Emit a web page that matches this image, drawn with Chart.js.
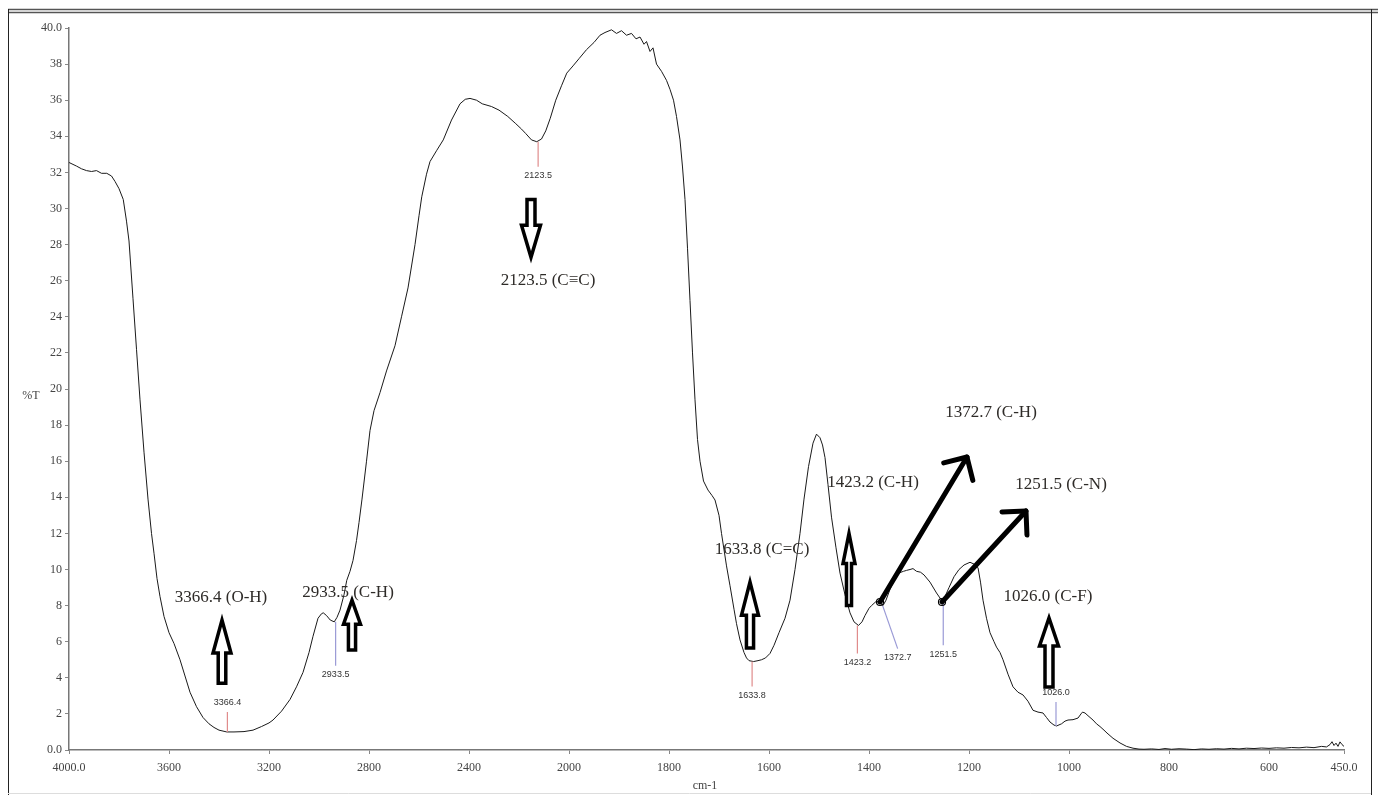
<!DOCTYPE html>
<html><head><meta charset="utf-8">
<script src="https://cdn.jsdelivr.net/npm/chart.js@4.4.1/dist/chart.umd.min.js"></script>
<style>html,body{margin:0;padding:0;background:#fff;}canvas{display:block;}</style>
</head><body>
<canvas id="c" width="1378" height="795"></canvas>
<script>
// ---------------- DATA ----------------
const wavenumbers = [4000,3970,3950,3930,3910,3890,3870,3849,3830,3816,3800,3783,3770,3760,3744,3730,3716,3700,3684,3670,3660,3648,3636,3620,3600,3580,3556,3536,3516,3490,3464,3440,3420,3400,3369,3340,3300,3264,3230,3200,3184,3150,3116,3090,3064,3040,3024,3004,2990,2983,2970,2955,2939,2928,2916,2900,2889,2876,2864,2850,2840,2828,2810,2796,2780,2756,2730,2696,2670,2644,2616,2600,2589,2570,2556,2530,2503,2470,2436,2415,2396,2370,2347,2310,2280,2245,2213,2190,2173,2150,2129,2110,2093,2075,2053,2030,2009,1992,1980,1965,1950,1938,1928,1915,1905,1895,1885,1875,1866,1858,1850,1845,1838,1832,1825,1815,1805,1798,1791,1785,1778,1773,1768,1763,1758,1753,1748,1743,1738,1731,1722,1714,1708,1700,1695,1685,1678,1670,1665,1658,1650,1645,1640,1631,1622,1615,1607,1598,1590,1580,1568,1558,1548,1538,1530,1521,1512,1505,1498,1493,1488,1482,1475,1466,1458,1448,1438,1430,1421,1414,1408,1400,1395,1385,1378,1372,1366,1358,1350,1341,1331,1325,1318,1312,1305,1297,1290,1278,1265,1255,1248,1240,1230,1220,1210,1198,1190,1182,1177,1172,1165,1158,1150,1145,1138,1132,1122,1112,1102,1092,1082,1072,1062,1052,1045,1038,1030,1025,1015,1008,1002,992,982,976,973,968,962,952,945,938,930,924,912,898,885,872,860,850,835,820,808,795,780,765,750,735,720,705,690,675,660,645,630,615,600,585,570,555,540,525,510,495,485,478,474,470,466,462,458,454,450];
const transmittance = [32.55,32.35,32.2,32.1,32.05,32.1,31.95,31.95,31.8,31.5,31.1,30.5,29.3,28.2,25.0,22.2,19.4,16.5,13.9,12.0,10.9,9.5,8.5,7.4,6.5,5.9,5.0,4.1,3.2,2.4,1.8,1.45,1.25,1.1,1.0,1.0,1.02,1.1,1.3,1.5,1.66,2.15,2.8,3.5,4.3,5.4,6.3,7.3,7.55,7.6,7.45,7.2,7.1,7.35,7.75,8.6,9.4,9.9,10.5,11.6,12.6,13.9,16.0,17.7,18.8,19.8,21.0,22.4,24.0,25.6,28.0,29.6,30.65,31.9,32.6,33.2,33.8,34.9,35.8,36.05,36.1,36.0,35.8,35.65,35.45,35.1,34.7,34.4,34.15,33.8,33.7,33.85,34.3,35.0,36.0,36.8,37.5,37.9,38.3,38.8,39.2,39.6,39.75,39.9,39.7,39.85,39.6,39.7,39.4,39.5,39.1,39.25,38.7,38.9,38.0,37.6,37.1,36.6,36.0,35.1,33.8,32.3,30.5,27.8,24.9,22.0,19.4,17.2,16.0,14.9,14.4,14.1,13.85,13.0,12.0,10.2,9.1,7.8,7.0,6.1,5.4,5.1,4.95,4.9,4.95,5.0,5.1,5.35,5.8,6.5,7.3,8.3,10.0,12.0,13.9,15.7,17.0,17.5,17.3,16.9,16.2,14.7,12.9,11.2,9.8,8.6,7.6,7.1,6.9,7.1,7.45,7.85,8.0,8.25,8.15,8.0,8.3,8.9,9.4,9.8,9.9,9.95,10.0,10.05,9.9,9.85,9.7,9.3,8.7,8.3,8.5,9.0,9.6,10.0,10.25,10.4,10.3,10.1,9.3,8.3,7.3,6.5,6.0,5.7,5.4,5.0,4.2,3.5,3.2,3.05,2.7,2.2,2.1,2.05,1.8,1.55,1.38,1.33,1.45,1.6,1.66,1.68,1.77,2.0,2.1,2.05,1.9,1.66,1.45,1.3,1.1,0.94,0.65,0.39,0.2,0.1,0.05,0.04,0.06,0.03,0.08,0.04,0.07,0.05,0.02,0.06,0.04,0.07,0.05,0.09,0.06,0.1,0.08,0.11,0.09,0.12,0.1,0.14,0.12,0.16,0.13,0.2,0.17,0.3,0.46,0.25,0.38,0.2,0.45,0.3,0.2];
const xTickValues = [4000,3600,3200,2800,2400,2000,1800,1600,1400,1200,1000,800,600,450];
const yTickValues = [0,2,4,6,8,10,12,14,16,18,20,22,24,26,28,30,32,34,36,38,40];
const peakWavenumbers = [3366.4,2933.5,2123.5,1633.8,1423.2,1372.7,1251.5,1026.0];
const peakTransmittance = [1.0,7.1,33.7,4.9,6.9,8.0,8.3,1.33];
const peakLabels = ['3366.4','2933.5','2123.5','1633.8','1423.2','1372.7','1251.5','1026.0'];
const bandLabels = ['3366.4 (O-H)','2933.5 (C-H)','2123.5 (C\u2261C)','1633.8 (C=C)','1423.2 (C-H)','1372.7 (C-H)','1251.5 (C-N)','1026.0 (C-F)'];

// ---------------- LAYOUT / STYLE ----------------
const markerStyle = [
  {color:'#e08c8c', dir:-1, len:20, dx:0},
  {color:'#9a9ad6', dir:1, len:44, dx:0},
  {color:'#e08c8c', dir:1, len:25, dx:0},
  {color:'#e08c8c', dir:1, len:25, dx:0},
  {color:'#e08c8c', dir:1, len:28, dx:0},
  {color:'#9a9ad6', dir:1, len:43, dx:15},
  {color:'#9a9ad6', dir:1, len:45, dx:0},
  {color:'#9a9ad6', dir:-1, len:24, dx:0}
];
// label anchor positions (wavenumber, %T) for each band label
const bandLabelPos = [[3392,8.42],[2884,8.75],[2084,26.0],[1614,11.08],[1392,14.8],[1156,18.67],[1016,14.68],[1042,8.48]];
// hollow block arrows: [centre wavenumber, tail %T, tip %T, width px, head px]
const blockArrows = [[3388,3.7,7.2,18,33],[2868,5.54,8.3,17,24],[2152,30.5,27.3,19,32],[1638,5.65,9.3,17,33],[1440,8.0,12.0,12,30],[1040,3.49,7.31,19,28]];
// line arrows: [from wn, from %T, to wn, to %T]
const lineArrows = [[1378,8.2,1204,16.23],[1254,8.2,1086,13.24]];

// ---------------- custom FTIR axis (scale change at 2000 cm-1) ----------------
class FtirScale extends Chart.LinearScale {
  buildTicks() { return xTickValues.map(v => ({value: v})); }
  _units(v) { return v >= 2000 ? (4000 - v) / 400 : 5 + (2000 - v) / 200; }
  getPixelForValue(v) { return this.left + this._units(v) / this._units(450) * this.width; }
  getValueForPixel(p) {
    const u = (p - this.left) / this.width * this._units(450);
    return u <= 5 ? 4000 - u * 400 : 2000 - (u - 5) * 200;
  }
}
FtirScale.id = 'ftir';
FtirScale.defaults = {};
Chart.register(FtirScale);

const framePlugin = {
  id: 'frame',
  beforeDraw(chart) {
    const c = chart.ctx;
    c.save();
    c.fillStyle = '#fff'; c.fillRect(0, 0, chart.width, chart.height);
    c.strokeStyle = '#555'; c.lineWidth = 1.5;
    c.beginPath(); c.moveTo(8, 9.5); c.lineTo(1378, 9.5); c.stroke();
    c.beginPath(); c.moveTo(8, 12.5); c.lineTo(1378, 12.5); c.stroke();
    c.strokeStyle = '#222'; c.lineWidth = 1;
    c.beginPath(); c.moveTo(8.5, 9); c.lineTo(8.5, 795); c.stroke();
    c.beginPath(); c.moveTo(1371.5, 9); c.lineTo(1371.5, 795); c.stroke();
    c.strokeStyle = '#ddd';
    c.beginPath(); c.moveTo(8, 793.5); c.lineTo(1371, 793.5); c.stroke();
    c.fillStyle = '#444'; c.font = '12px "Liberation Serif"';
    c.textAlign = 'center'; c.textBaseline = 'middle';
    c.fillText('%T', 31, 396);
    c.fillText('cm-1', 705, 786);
    c.restore();
  }
};

function blockArrow(c, cx, yBase, yTip, w, headH) {
  const sw = w * 0.42; const dir = yTip < yBase ? -1 : 1;
  const yNeck = yTip - dir * headH;
  c.beginPath();
  c.moveTo(cx - sw / 2, yBase);
  c.lineTo(cx - sw / 2, yNeck);
  c.lineTo(cx - w / 2, yNeck);
  c.lineTo(cx, yTip);
  c.lineTo(cx + w / 2, yNeck);
  c.lineTo(cx + sw / 2, yNeck);
  c.lineTo(cx + sw / 2, yBase);
  c.closePath();
  c.fillStyle = '#fff'; c.fill();
  c.lineWidth = 3.5; c.strokeStyle = '#000'; c.lineJoin = 'miter'; c.stroke();
}

const annotationPlugin = {
  id: 'ftirAnnotations',
  afterDatasetsDraw(chart) {
    const c = chart.ctx, xs = chart.scales.x, ys = chart.scales.y;
    const X = w => xs.getPixelForValue(w), Y = t => ys.getPixelForValue(t);
    c.save();
    // peak markers
    c.font = '9px "Liberation Sans"'; c.textAlign = 'center'; c.textBaseline = 'middle';
    peakWavenumbers.forEach((w, i) => {
      const s = markerStyle[i];
      const x0 = X(w), y0 = Y(peakTransmittance[i]);
      const x1 = x0 + s.dx, y1 = y0 + s.dir * s.len;
      c.strokeStyle = s.color; c.lineWidth = 1.2;
      c.beginPath(); c.moveTo(x0, y0); c.lineTo(x1, y1); c.stroke();
      c.fillStyle = '#333';
      c.fillText(peakLabels[i], x1, y1 + s.dir * 9);
    });
    // band labels
    c.font = '17px "Liberation Serif"'; c.fillStyle = '#2e2b28';
    bandLabels.forEach((t, i) => {
      c.fillText(t, X(bandLabelPos[i][0]), Y(bandLabelPos[i][1]));
    });
    // block arrows
    blockArrows.forEach(a => blockArrow(c, X(a[0]), Y(a[1]), Y(a[2]), a[3], a[4]));
    // line arrows
    c.strokeStyle = '#000'; c.lineWidth = 5; c.lineCap = 'round'; c.lineJoin = 'round';
    lineArrows.forEach(a => {
      const x0 = X(a[0]), y0 = Y(a[1]), x1 = X(a[2]), y1 = Y(a[3]);
      c.beginPath(); c.moveTo(x0, y0); c.lineTo(x1, y1); c.stroke();
      const ang = Math.atan2(y0 - y1, x0 - x1), L = 24, sp = Math.PI / 4;
      c.beginPath();
      c.moveTo(x1 + L * Math.cos(ang - sp), y1 + L * Math.sin(ang - sp));
      c.lineTo(x1, y1);
      c.lineTo(x1 + L * Math.cos(ang + sp), y1 + L * Math.sin(ang + sp));
      c.stroke();
      c.lineWidth = 1.2;
      c.beginPath(); c.arc(x0, y0, 3.5, 0, Math.PI * 2); c.stroke();
      c.lineWidth = 5;
    });
    c.restore();
  }
};

const tickFont = {family: 'Liberation Serif', size: 12};
new Chart(document.getElementById('c').getContext('2d'), {
  type: 'line',
  data: {
    datasets: [{
      data: wavenumbers.map((w, i) => ({x: w, y: transmittance[i]})),
      borderColor: '#1a1a1a', borderWidth: 1, pointRadius: 0, tension: 0, fill: false
    }]
  },
  options: {
    responsive: false, animation: false, events: [],
    layout: {padding: {top: 28, right: 34, left: 0, bottom: 0}},
    plugins: {legend: {display: false}, tooltip: {enabled: false}},
    scales: {
      x: {
        type: 'ftir', min: 450, max: 4000,
        afterFit(s) { s.height = 45; },
        ticks: {autoSkip: false, maxRotation: 0, padding: 7, font: tickFont, color: '#444',
          callback: v => v === 4000 ? '4000.0' : v === 450 ? '450.0' : String(v)},
        grid: {drawOnChartArea: false, tickLength: 4, color: '#888'},
        border: {color: '#777', width: 1.5}
      },
      y: {
        min: 0, max: 40,
        afterFit(s) { s.width = 69; },
        afterBuildTicks(s) { s.ticks = yTickValues.map(v => ({value: v})); },
        ticks: {padding: 3, font: tickFont, color: '#444',
          callback: v => v === 0 ? '0.0' : v === 40 ? '40.0' : String(v)},
        grid: {drawOnChartArea: false, tickLength: 4, color: '#888'},
        border: {color: '#777', width: 1.5}
      }
    }
  },
  plugins: [framePlugin, annotationPlugin]
});
</script>
</body></html>
